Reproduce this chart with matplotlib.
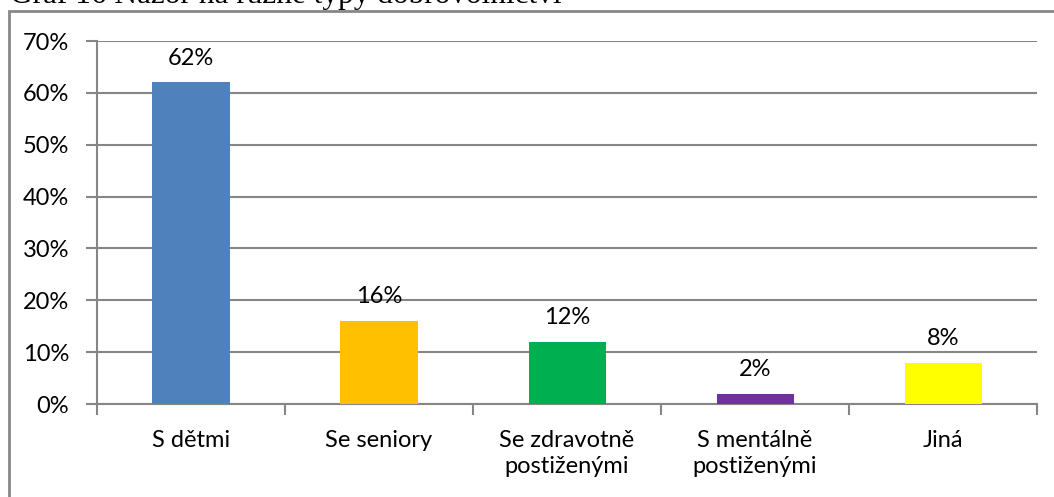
import matplotlib.pyplot as plt
from matplotlib.patches import Rectangle
from matplotlib.ticker import MultipleLocator, PercentFormatter

# Data
categories = ['S dětmi', 'Se seniory', 'Se zdravotně\npostiženými', 'S mentálně\npostiženými', 'Jiná']
values = [62, 16, 12, 2, 8]
colors = ['#4F81BD', '#FFC000', '#00B050', '#7030A0', '#FFFF00']
title = 'Graf 16 Názor na různé typy dobrovolnictví'

plt.rcParams['font.family'] = ['Lato', 'DejaVu Sans']

fig = plt.figure(figsize=(10.54, 4.97), dpi=100)
ax = fig.add_axes([0.092, 0.187, 0.892, 0.7305])

x = range(len(categories))
ax.bar(x, values, width=0.41, color=colors, zorder=3)
for i, v in enumerate(values):
    ax.annotate(f'{v}%', (i, v), xytext=(0, 10), textcoords='offset points',
                ha='center', va='bottom', fontsize=17)

ax.set_xlim(-0.5, len(categories) - 0.5)
ax.set_ylim(0, 70)
ax.yaxis.set_major_locator(MultipleLocator(10))
ax.yaxis.set_major_formatter(PercentFormatter(decimals=0))
ax.grid(axis='y', color='#868686', linewidth=1.5, zorder=0)

ax.set_xticks([i - 0.5 for i in range(len(categories) + 1)], minor=False)
ax.set_xticklabels([])
ax.set_xticks(list(x), minor=True)
ax.set_xticklabels(categories, minor=True, fontsize=17, linespacing=1.25)
ax.tick_params(axis='x', which='minor', length=0, pad=19)
ax.tick_params(axis='x', which='major', length=8, width=1.5, color='#868686', direction='out')
ax.tick_params(axis='y', length=8, width=1.5, color='#868686', labelsize=17, pad=12)

for side in ['top', 'right']:
    ax.spines[side].set_visible(False)
for side in ['left', 'bottom']:
    ax.spines[side].set_color('#868686')
    ax.spines[side].set_linewidth(1.5)

# chart frame and caption clipped by the top edge
fig.patches.append(Rectangle((9 / 1054, -0.1), 1.2, 1 - 11 / 497 + 0.1,
                             transform=fig.transFigure, fill=False,
                             edgecolor='#878787', linewidth=2))
fig.text(10 / 1054, 1.0 - 3 / 497, title, family='Liberation Serif', fontsize=22.5,
         va='baseline', ha='left')

fig.savefig('out.png', dpi=100)
